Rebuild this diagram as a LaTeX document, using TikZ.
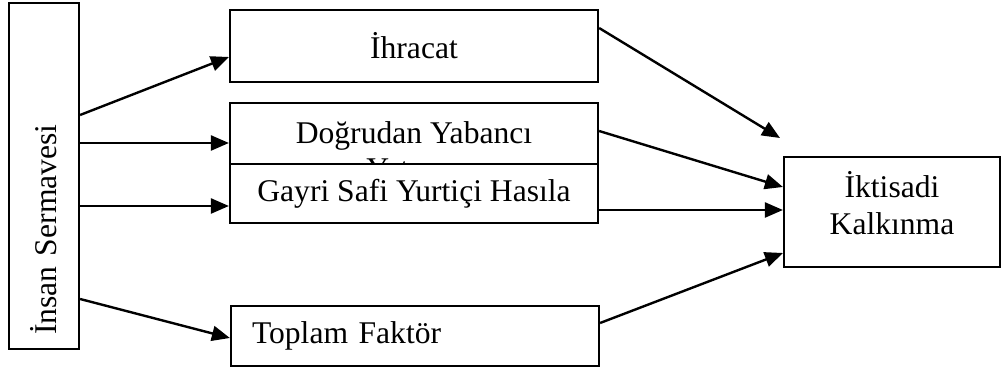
\documentclass[tikz,border=0pt]{standalone}
\usepackage{fontspec}
\setmainfont{Liberation Serif}
\usetikzlibrary{arrows.meta}

\begin{document}
\begin{tikzpicture}[x=0.5pt,y=-0.5pt,->,>={Triangle[length=9pt,width=7.5pt]},
  line width=1.2pt,
  box/.style={rectangle,draw,fill=white,inner sep=0pt,line width=1.1pt,
    font=\fontsize{15.8pt}{18pt}\selectfont},
  txt/.style={inner sep=0pt,align=center,font=\fontsize{15.8pt}{18.5pt}\selectfont}]

  \useasboundingbox (0,0) rectangle (1006,367);

  \node[box,rotate=90,minimum width=173pt,minimum height=35pt,text width=159pt,align=left] (1) at (44,176) {İnsan Sermavesi};
  \node[box,minimum width=184pt,minimum height=36pt] (2) at (414,46) {İhracat};
  \node[box,minimum width=184pt,minimum height=47.5pt,align=center] (3) at (414,150.5) {Doğrudan Yabancı\\Yatırım};
  \node[box,minimum width=184pt,minimum height=29.5pt] (4) at (414,193.5) {Gayri Safi Yurtiçi Hasıla};
  \node[box,minimum width=184pt,minimum height=30pt,text width=163pt,align=left] (5) at (415,336) {Toplam Faktör};
  \node[box,minimum width=108pt,minimum height=55pt,
    label={[txt,yshift=4.5pt]center:{İktisadi\\Kalkınma}}] (6) at (892,212) {};
  \coordinate (t) at (780,138);

  \path
    ([yshift=30.5pt]1.south) edge ([yshift=-5.5pt]2.west)
    ([yshift=16.5pt]1.south) edge ([yshift=3.75pt]3.west)
    ([yshift=-15pt]1.south)  edge ([yshift=-6.25pt]4.west)
    ([yshift=-61.5pt]1.south) edge ([yshift=-1pt]5.west)
    ([yshift=9pt]2.east)     edge (t)
    ([yshift=9.75pt]3.east)  edge ([yshift=12.5pt]6.west)
    ([yshift=-8.25pt]4.east) edge ([yshift=1pt]6.west)
    ([yshift=6.5pt]5.east)   edge ([yshift=-20.5pt]6.west);
\end{tikzpicture}
\end{document}
